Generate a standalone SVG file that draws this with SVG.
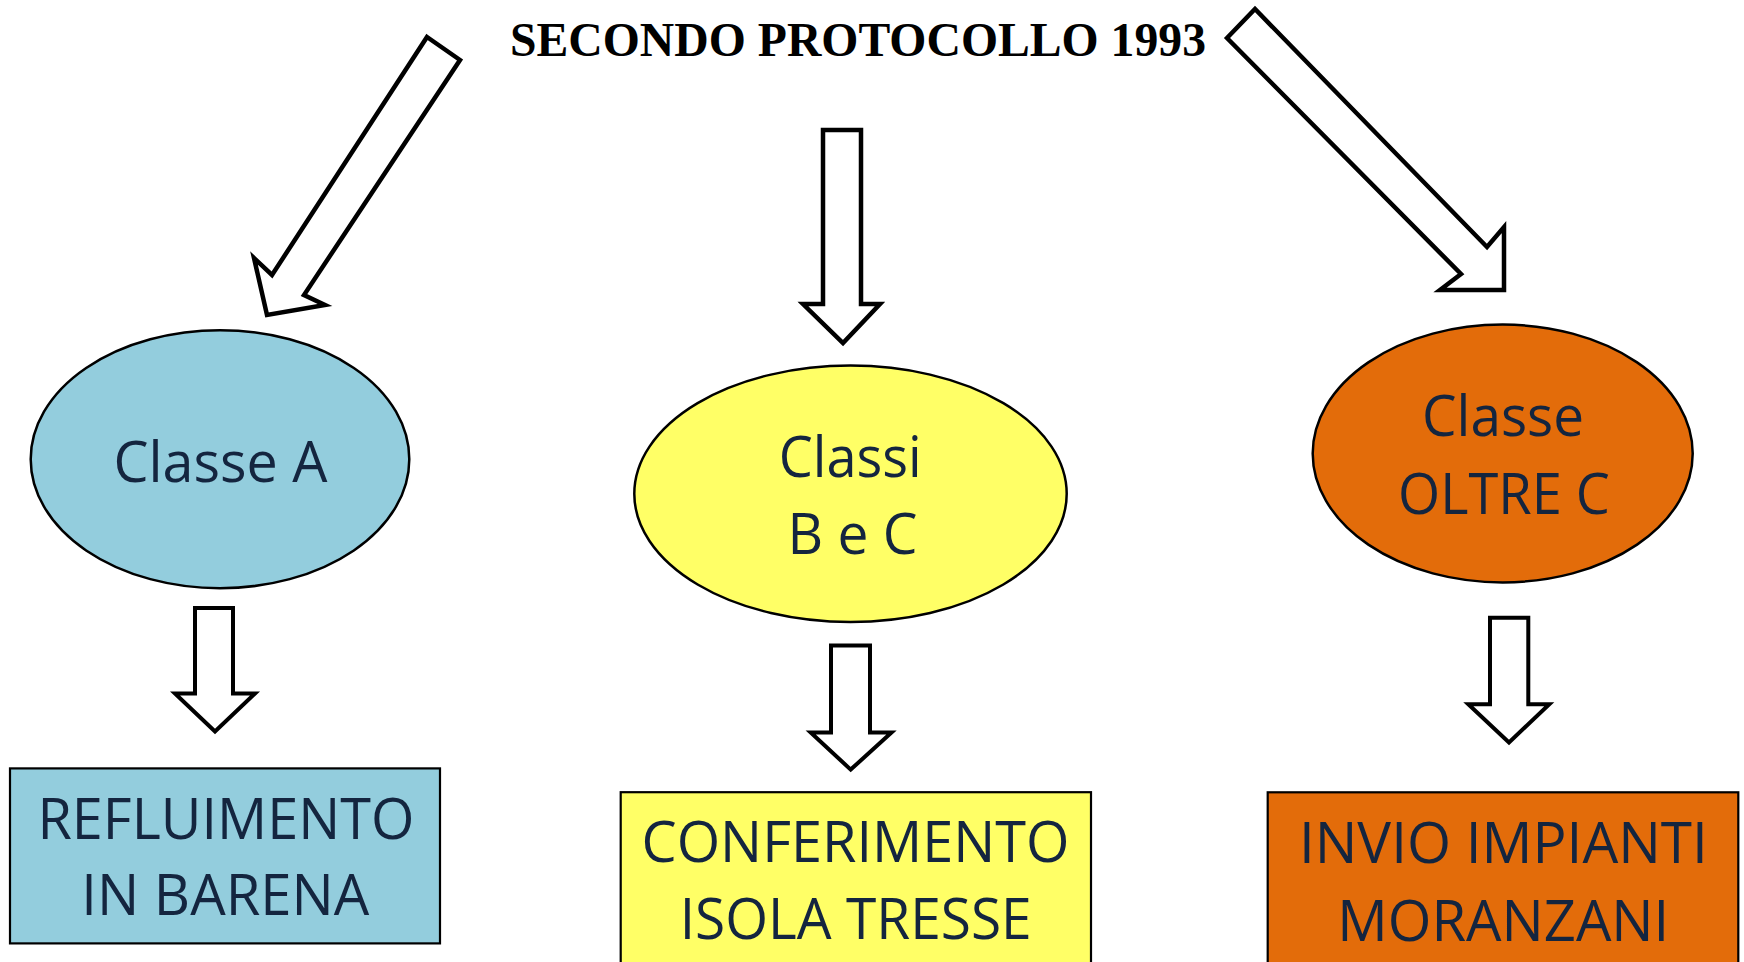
<svg xmlns="http://www.w3.org/2000/svg" width="1744" height="962" viewBox="0 0 1744 962">
<style>
.bg{fill:#ffffff}
.ell{stroke:#000000;stroke-width:2.5}
.box{stroke:#000000;stroke-width:2.2}
.blue{fill:#93CDDD}
.yellow{fill:#FFFF66}
.orange{fill:#E36C0A}
.lbl{font-family:"Open Sans","Noto Sans","Liberation Sans",sans-serif;font-size:57px;fill:#14253F;text-anchor:middle}
.title{font-family:"Liberation Serif","Times New Roman",serif;font-size:48px;font-weight:bold;fill:#000000;text-anchor:middle}
.barrow{fill:#ffffff;stroke:#000000;stroke-width:4.5;stroke-linejoin:miter}
.sarrow{fill:#ffffff;stroke:#000000;stroke-width:4;stroke-linejoin:miter}
</style>
<rect class="bg" x="0" y="0" width="1744" height="962"/>

<g id="title">
<text class="title" x="858" y="56" textLength="696" lengthAdjust="spacingAndGlyphs">SECONDO PROTOCOLLO 1993</text>
</g>

<g id="connectors">
<polygon class="barrow" points="427,37 460,60 304,295 325,305 267,315 254,258 272,275"/>
<polygon class="barrow" points="823,130 861,130 861,304 880,304 843,343 803,304 823,304"/>
<polygon class="barrow" points="1227,38 1255,9 1487,247 1504,227 1504,290 1440,290 1461,274"/>
<polygon class="sarrow" points="195,608 233,608 233,693.5 255,693.5 215,731.5 175,693.5 195,693.5"/>
<polygon class="sarrow" points="831,645.5 870,645.5 870,732.5 891.5,732.5 850.7,769.6 810.7,732.5 831,732.5"/>
<polygon class="sarrow" points="1490,617.7 1528.3,617.7 1528.3,704.2 1549.3,704.2 1509,742.4 1468.3,704.2 1490,704.2"/>
</g>

<g id="classe-a">
<ellipse class="ell blue" cx="220" cy="459.2" rx="189.3" ry="129"/>
<text class="lbl" x="220.5" y="481.8" textLength="214" lengthAdjust="spacingAndGlyphs">Classe A</text>
</g>

<g id="classi-b-c">
<ellipse class="ell yellow" cx="850.5" cy="493.8" rx="216.2" ry="128.2"/>
<text class="lbl" x="850.2" y="476.9" textLength="143" lengthAdjust="spacingAndGlyphs">Classi</text>
<text class="lbl" x="852.5" y="553.7" textLength="130" lengthAdjust="spacingAndGlyphs">B e C</text>
</g>

<g id="classe-oltre-c">
<ellipse class="ell orange" cx="1502.7" cy="453.5" rx="190" ry="128.9"/>
<text class="lbl" x="1503" y="436" textLength="162" lengthAdjust="spacingAndGlyphs">Classe</text>
<text class="lbl" x="1504" y="513.7" textLength="212" lengthAdjust="spacingAndGlyphs">OLTRE C</text>
</g>

<g id="refluimento">
<rect class="box blue" x="10" y="768.4" width="430" height="175"/>
<text class="lbl" x="225.9" y="839.2" textLength="377" lengthAdjust="spacingAndGlyphs">REFLUIMENTO</text>
<text class="lbl" x="225.3" y="914.6" textLength="288" lengthAdjust="spacingAndGlyphs">IN BARENA</text>
</g>

<g id="conferimento">
<rect class="box yellow" x="620.7" y="792.2" width="470.3" height="190"/>
<text class="lbl" x="855.5" y="862.1" textLength="428" lengthAdjust="spacingAndGlyphs">CONFERIMENTO</text>
<text class="lbl" x="855.7" y="939.4" textLength="352" lengthAdjust="spacingAndGlyphs">ISOLA TRESSE</text>
</g>

<g id="invio">
<rect class="box orange" x="1267.7" y="792.3" width="470.6" height="190"/>
<text class="lbl" x="1503.4" y="863" textLength="409" lengthAdjust="spacingAndGlyphs">INVIO IMPIANTI</text>
<text class="lbl" x="1503.3" y="940.8" textLength="332" lengthAdjust="spacingAndGlyphs">MORANZANI</text>
</g>
</svg>
